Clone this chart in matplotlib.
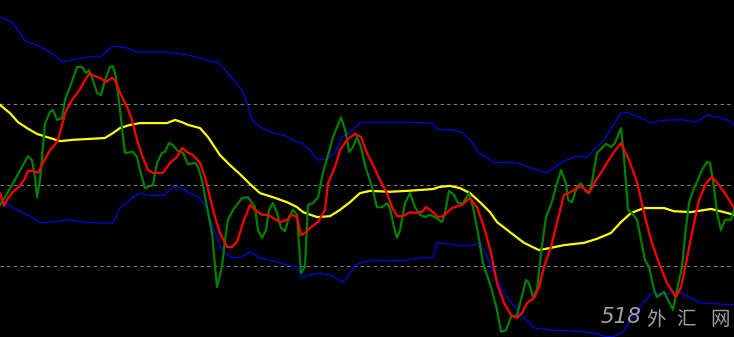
import matplotlib
matplotlib.use("Agg")
import matplotlib.pyplot as plt

# Traders Dynamic Index style indicator (values in indicator units)
levels = [68, 50, 32]

green_x = [0, 5, 13, 22, 28, 32, 35, 37, 40, 45, 50, 53, 57, 62, 65, 70, 77, 82, 86, 89,
           93, 97, 101, 105, 110, 113, 116, 120, 123, 125, 133, 137, 140, 145, 153, 157, 162,
           165, 169, 173, 177, 183, 188, 195, 198, 202, 207, 212, 217, 222, 225, 228, 233,
           242, 248, 255, 258, 262, 266, 269, 273, 277, 281, 285, 289, 293, 297, 301, 305,
           308, 313, 318, 323, 328, 333, 341, 346, 349, 353, 357, 361, 365, 372, 377, 382,
           387, 390, 393, 397, 400, 405, 410, 415, 420, 425, 430, 435, 442, 445, 449, 454,
           458, 463, 469, 473, 478, 483, 491, 497, 501, 506, 511, 517, 521, 526, 529, 533,
           537, 541, 546, 551, 556, 561, 566, 568, 572, 577, 581, 586, 589, 592, 597, 606,
           611, 615, 621, 624, 628, 632, 637, 641, 645, 649, 654, 657, 664, 669, 673, 677,
           682, 686, 689, 694, 697, 702, 707, 710, 714, 717, 721, 725, 731, 734]
green_v = [45.6, 47.3, 50.4, 54.0, 56.4, 55.5, 51.8, 47.3, 51.1, 63.7, 66.1, 66.6, 64.4, 64.8,
           68.8, 71.7, 76.1, 76.1, 74.8, 75.4, 73.2, 70.4, 69.9, 73.2, 76.1, 76.3, 73.9, 66.6,
           60.6, 57.1, 57.3, 56.2, 53.3, 49.3, 50.0, 54.9, 57.1, 57.3, 59.3, 58.8, 57.7, 57.1,
           54.6, 54.9, 54.0, 51.1, 45.1, 39.4, 27.4, 31.9, 37.8, 42.3, 44.5, 47.1, 47.3, 45.1,
           40.0, 38.3, 40.0, 44.5, 46.0, 43.8, 40.5, 39.8, 42.9, 44.5, 43.4, 30.5, 31.9, 45.6,
           46.0, 47.3, 52.7, 56.6, 60.6, 65.0, 61.5, 57.3, 58.4, 60.6, 58.4, 54.4, 49.6, 45.1,
           45.1, 46.0, 44.9, 41.6, 38.3, 40.0, 46.0, 48.2, 45.1, 43.4, 42.9, 43.4, 42.9, 41.8,
           43.8, 48.7, 47.8, 46.0, 46.0, 48.2, 45.1, 39.4, 32.7, 27.4, 22.4, 17.5, 17.9, 20.8,
           21.2, 24.6, 29.0, 28.3, 25.2, 26.8, 35.0, 42.9, 45.6, 49.6, 53.3, 50.4, 46.7, 46.2,
           49.6, 50.4, 48.5, 48.2, 50.7, 57.1, 59.1, 58.4, 59.3, 62.6, 56.2, 44.5, 43.8, 42.3,
           37.8, 33.4, 31.9, 26.8, 25.2, 26.3, 24.1, 22.4, 26.8, 31.9, 40.7, 46.0, 49.3, 50.7,
           53.3, 55.1, 54.9, 49.6, 43.8, 40.0, 42.3, 42.3, 44.5]

red_x = [0, 4, 8, 13, 20, 25, 28, 33, 38, 43, 50, 57, 60, 65, 72, 80, 85, 89, 95, 100, 106,
         112, 115, 120, 127, 132, 137, 142, 148, 153, 163, 170, 177, 182, 187, 193, 200, 205,
         210, 215, 220, 227, 232, 237, 243, 250, 255, 262, 268, 273, 280, 287, 292, 297, 301,
         305, 310, 318, 325, 328, 335, 340, 347, 355, 361, 367, 373, 380, 387, 392, 397, 403,
         410, 415, 422, 426, 432, 438, 443, 452, 462, 470, 477, 484, 491, 497, 504, 511, 517,
         522, 527, 534, 539, 544, 551, 557, 564, 571, 581, 589, 596, 601, 607, 614, 621, 629,
         637, 644, 651, 659, 667, 676, 681, 686, 692, 699, 706, 712, 719, 726, 731, 734]
red_v = [48.2, 45.4, 47.1, 48.5, 49.8, 51.5, 53.1, 53.1, 52.7, 54.9, 57.7, 59.5, 61.5, 65.9,
         68.8, 71.2, 73.2, 74.6, 74.1, 73.7, 72.8, 73.7, 73.2, 70.4, 67.3, 64.4, 60.0, 56.6,
         53.3, 52.7, 52.7, 54.9, 56.2, 58.2, 57.3, 56.6, 54.9, 51.8, 47.3, 42.9, 39.4, 36.3,
         36.3, 37.4, 41.6, 45.6, 44.5, 43.4, 43.4, 42.7, 41.8, 42.3, 43.4, 42.9, 38.9, 39.4,
         40.5, 41.8, 44.5, 50.4, 54.0, 57.7, 60.0, 61.3, 60.6, 57.1, 54.4, 51.1, 48.2, 45.1,
         43.1, 43.1, 44.0, 43.8, 44.0, 45.1, 44.2, 42.9, 43.1, 44.9, 45.6, 47.1, 45.1, 40.7,
         35.0, 28.3, 23.9, 21.2, 20.6, 21.7, 23.9, 25.0, 27.4, 31.9, 36.3, 41.6, 47.8, 48.5,
         49.8, 48.2, 51.1, 52.7, 54.9, 57.3, 59.3, 55.5, 50.7, 43.8, 37.8, 32.7, 28.3, 25.2,
         27.4, 32.7, 39.4, 46.7, 50.4, 51.8, 50.0, 47.8, 46.0, 44.9]

yellow_x = [0, 10, 18, 27, 37, 47, 60, 73, 90, 105, 113, 120, 130, 140, 167, 175, 182, 188,
            200, 208, 220, 230, 240, 250, 260, 273, 287, 297, 303, 317, 330, 340, 350, 360,
            370, 390, 407, 433, 440, 450, 460, 470, 480, 490, 497, 511, 524, 539, 551, 564,
            584, 597, 611, 621, 631, 644, 664, 674, 691, 711, 724, 734]
yellow_v = [67.7, 65.9, 63.9, 62.6, 61.3, 60.6, 59.7, 60.0, 60.2, 60.4, 61.5, 62.6, 63.3,
            63.7, 63.7, 64.4, 63.9, 63.3, 62.6, 60.6, 56.6, 54.4, 52.4, 50.2, 48.2, 47.3,
            46.2, 45.1, 44.0, 42.9, 43.1, 44.5, 46.2, 48.2, 48.7, 48.5, 48.7, 49.1, 49.6,
            49.8, 49.3, 48.2, 46.2, 44.0, 41.8, 39.4, 37.2, 35.6, 36.1, 36.7, 37.2, 38.1,
            39.4, 41.8, 43.8, 44.9, 44.9, 44.2, 44.0, 44.7, 44.0, 43.4]

upper_x = [0, 10, 18, 25, 37, 50, 57, 62, 73, 83, 93, 100, 107, 113, 127, 137, 167, 173, 187,
           200, 213, 218, 227, 235, 242, 247, 252, 260, 273, 287, 297, 302, 310, 318, 327,
           335, 342, 350, 360, 367, 407, 433, 438, 453, 463, 473, 478, 487, 494, 504, 517,
           531, 546, 554, 562, 577, 587, 596, 604, 612, 621, 627, 639, 651, 659, 671, 684,
           697, 707, 717, 727, 734]
upper_v = [87.2, 86.3, 84.3, 81.9, 81.0, 79.4, 78.3, 77.2, 77.7, 78.1, 78.5, 78.3, 79.6,
           80.7, 80.3, 79.4, 79.4, 79.2, 78.8, 78.1, 77.2, 77.2, 75.0, 72.8, 71.0, 68.1,
           64.4, 62.8, 61.5, 60.8, 59.5, 59.3, 57.7, 55.5, 55.8, 57.1, 60.6, 61.7, 63.7,
           63.9, 63.9, 63.7, 62.2, 62.2, 61.5, 59.3, 57.1, 56.2, 54.9, 55.1, 54.9, 53.8,
           52.7, 53.8, 55.1, 56.4, 56.2, 58.2, 60.0, 62.8, 65.9, 66.1, 65.0, 63.7, 64.2,
           64.4, 64.4, 63.9, 65.5, 65.0, 64.4, 63.3]

lower_x = [0, 5, 13, 23, 32, 40, 58, 67, 83, 100, 113, 120, 133, 140, 150, 165, 173, 182, 190,
           200, 207, 213, 220, 230, 240, 250, 260, 273, 287, 298, 302, 317, 330, 343, 350,
           357, 373, 390, 407, 420, 433, 437, 450, 463, 473, 480, 485, 494, 504, 517, 534,
           551, 570, 584, 593, 603, 613, 623, 633, 643, 652, 665, 680, 700, 734]
lower_v = [48.2, 46.2, 44.9, 43.8, 42.9, 41.6, 42.0, 42.3, 41.8, 41.6, 41.6, 44.9, 47.3,
           48.2, 47.6, 47.8, 49.6, 49.3, 48.2, 47.1, 44.5, 40.7, 36.3, 34.1, 33.9, 35.2,
           33.9, 33.2, 32.3, 31.9, 29.6, 30.5, 30.1, 28.5, 30.5, 32.5, 33.4, 33.2, 33.4,
           33.9, 33.9, 37.2, 36.9, 36.5, 36.7, 37.2, 35.0, 30.5, 26.1, 22.4, 18.4, 17.9,
           17.7, 17.5, 17.3, 16.6, 16.4, 17.5, 20.8, 23.9, 26.1, 25.9, 26.3, 23.9, 23.5]

watermark_digits = "518"
watermark_chars = ["外", "汇", "网"]

fig = plt.figure(figsize=(7.34, 3.37), dpi=100, facecolor="black")
ax = fig.add_axes([0, 0, 1, 1])
ax.set_facecolor("black")
ax.set_xlim(0, 734)
ax.set_ylim(16.37, 90.93)
ax.axis("off")

for lv in levels:
    ax.axhline(lv, color="#808080", lw=0.8, ls=(0, (3, 3)), zorder=1)

ax.plot(upper_x, upper_v, color="#0000ff", lw=0.8, zorder=2)
ax.plot(lower_x, lower_v, color="#0000ff", lw=0.8, zorder=2)
ax.plot(yellow_x, yellow_v, color="#ffff00", lw=1.6, zorder=3)
ax.plot(green_x, green_v, color="#008000", lw=1.6, zorder=4)
ax.plot(red_x, red_v, color="#ff0000", lw=1.6, zorder=5)

wm = "#a0a0a0"
fig.text(601 / 734, 1 - 323 / 337, watermark_digits, fontsize=15.5, color=wm, style="italic",
         family=["DejaVu Sans"], fontweight="light", va="baseline", ha="left", zorder=6)
for ch, px in zip(watermark_chars, [656, 686, 720]):
    fig.text(px / 734, 1 - 325 / 337, ch, fontsize=14, color=wm,
             family=["Noto Sans CJK SC", "DejaVu Sans"], va="baseline", ha="center",
             fontweight="light", zorder=6)

fig.savefig("out.png", dpi=100, facecolor="black")
